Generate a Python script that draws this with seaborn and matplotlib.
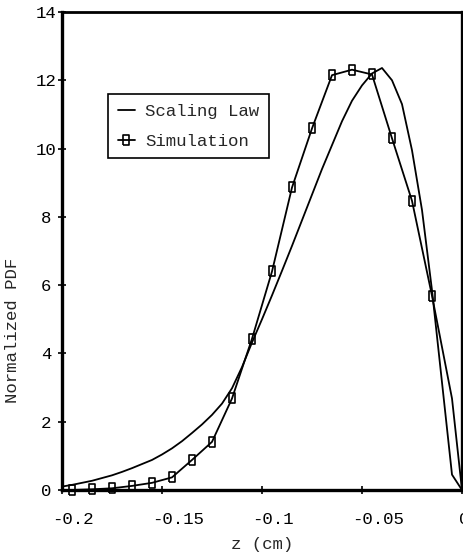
import matplotlib
matplotlib.use("Agg")
import matplotlib.pyplot as plt
import matplotlib.transforms as mtransforms
from matplotlib.lines import Line2D
import numpy as np
import pandas as pd
import seaborn as sns

# Scaling-law curve: z (cm) and normalized PDF
law_z = [-0.200, -0.195, -0.190, -0.185, -0.180, -0.175, -0.170, -0.165, -0.160,
         -0.155, -0.150, -0.145, -0.140, -0.135, -0.130, -0.125, -0.120, -0.115,
         -0.110, -0.105, -0.100, -0.095, -0.090, -0.085, -0.080, -0.075, -0.070,
         -0.065, -0.060, -0.055, -0.050, -0.045, -0.040, -0.035, -0.030, -0.025,
         -0.020, -0.015, -0.005, 0.000]
law_pdf = [0.10, 0.15, 0.21, 0.27, 0.35, 0.43, 0.53, 0.64, 0.76,
           0.88, 1.04, 1.22, 1.43, 1.67, 1.92, 2.20, 2.53, 2.98,
           3.60, 4.32, 5.00, 5.70, 6.42, 7.15, 7.90, 8.65, 9.40,
           10.10, 10.80, 11.40, 11.85, 12.20, 12.36, 12.00, 11.30, 9.95,
           8.20, 5.85, 0.45, 0.00]

# Simulation results (markers on the first 19 samples)
sim_z = [-0.195, -0.185, -0.175, -0.165, -0.155, -0.145, -0.135, -0.125, -0.115,
         -0.105, -0.095, -0.085, -0.075, -0.065, -0.055, -0.045, -0.035, -0.025,
         -0.015, -0.005, 0.000]
sim_pdf = [0.00, 0.02, 0.05, 0.12, 0.21, 0.37, 0.88, 1.41, 2.68,
           4.43, 6.40, 8.86, 10.59, 12.15, 12.31, 12.17, 10.30, 8.47,
           5.69, 2.68, 0.00]

x_ticks = [-0.2, -0.15, -0.1, -0.05, 0.0]
x_tick_labels = ["-0.2", "-0.15", "-0.1", "-0.05", "0"]
y_ticks = [0, 2, 4, 6, 8, 10, 12, 14]
y_tick_labels = ["0", "2", "4", "6", "8", "10", "12", "14"]
series_names = ["Scaling Law", "Simulation"]

sns.set_style("ticks")
plt.rcParams["font.family"] = ["Liberation Mono", "DejaVu Sans Mono"]
FS = 12.5

# slightly tall open rectangle used as the simulation marker
RECT = [(-0.75, -1.0), (0.75, -1.0), (0.75, 1.0), (-0.75, 1.0), (-0.75, -1.0)]
MS = 6.5

W, H = 463, 556
fig = plt.figure(figsize=(W / 100, H / 100), dpi=100)
ax = fig.add_axes([62 / W, (H - 490) / H, 400 / W, 478 / H])

law_df = pd.DataFrame({"z": law_z, "pdf": law_pdf})
sim_df = pd.DataFrame({"z": sim_z, "pdf": sim_pdf})

sns.lineplot(data=law_df, x="z", y="pdf", ax=ax, color="black", lw=1.3,
             sort=False, estimator=None, clip_on=False)
sns.lineplot(data=sim_df, x="z", y="pdf", ax=ax, color="black", lw=1.3,
             sort=False, estimator=None, marker=RECT, markersize=MS,
             markerfacecolor="none", markeredgecolor="black", markeredgewidth=1.2,
             markevery=list(range(19)), clip_on=False)

ax.set_xlim(-0.2, 0.0)
ax.set_ylim(0, 14)
ax.set_xticks(x_ticks)
ax.set_xticklabels(x_tick_labels, fontsize=FS)
ax.set_yticks(y_ticks)
ax.set_yticklabels(y_tick_labels, fontsize=FS)

for side in ["left", "right", "top", "bottom"]:
    ax.spines[side].set_visible(True)
    ax.spines[side].set_color("black")
ax.spines["left"].set_linewidth(2.4)
ax.spines["bottom"].set_linewidth(2.4)
ax.spines["top"].set_linewidth(2.0)
ax.spines["right"].set_linewidth(2.4)

ax.tick_params(axis="both", direction="inout", length=6, width=1.2, color="black",
               labelcolor="black")
ax.tick_params(axis="y", pad=8.6)
ax.tick_params(axis="x", pad=12.8)

for lab in ax.get_yticklabels():
    lab.set_horizontalalignment("center")

for lab, txt in zip(ax.get_xticklabels(), x_tick_labels):
    lab.set_horizontalalignment("left")
    dx = -3 if txt == "0" else -10
    lab.set_transform(lab.get_transform() +
                      mtransforms.ScaledTranslation(dx / 100, 0, fig.dpi_scale_trans))

ax.set_xlabel("z (cm)", fontsize=FS)
ax.xaxis.set_label_coords(0.5, -(545 - 490) / 478)
ax.xaxis.label.set_verticalalignment("center")
ax.set_ylabel("Normalized PDF", fontsize=FS)
ax.yaxis.set_label_coords((12 - 62) / 400, (490 - 330) / 478)
ax.yaxis.label.set_verticalalignment("center")

handles = [
    Line2D([], [], color="black", lw=1.3),
    Line2D([], [], color="black", lw=1.3, marker=RECT, markersize=MS,
           markerfacecolor="none", markeredgecolor="black", markeredgewidth=1.2),
]
leg = ax.legend(handles, series_names, loc="upper left",
                bbox_to_anchor=(108 / W, 1 - 94 / H), bbox_transform=fig.transFigure,
                borderaxespad=0, fontsize=FS, frameon=True, fancybox=False,
                handlelength=1.0, handletextpad=0.6, borderpad=0.55,
                labelspacing=0.85, framealpha=1, edgecolor="black")
leg.get_frame().set_linewidth(1.2)

fig.savefig("out.png", dpi=100)
